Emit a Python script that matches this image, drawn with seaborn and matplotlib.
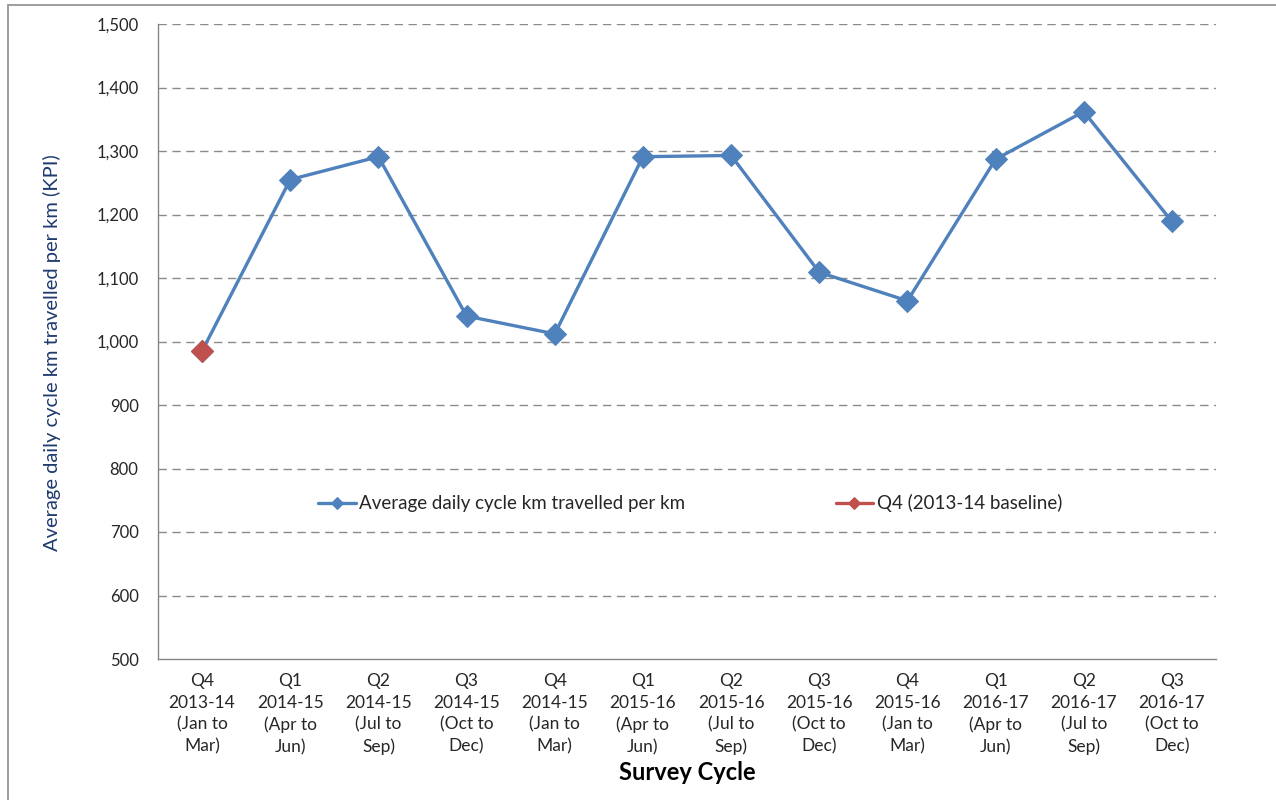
import matplotlib
matplotlib.use("Agg")
import matplotlib.pyplot as plt
import seaborn as sns
import pandas as pd
from matplotlib.patches import Rectangle

# ---- data ----
quarters = ["Q4", "Q1", "Q2", "Q3", "Q4", "Q1", "Q2", "Q3", "Q4", "Q1", "Q2", "Q3"]
years = ["2013-14", "2014-15", "2014-15", "2014-15", "2014-15", "2015-16",
         "2015-16", "2015-16", "2015-16", "2016-17", "2016-17", "2016-17"]
months = ["(Jan to\nMar)", "(Apr to\nJun)", "(Jul to\nSep)", "(Oct to\nDec)",
          "(Jan to\nMar)", "(Apr to\nJun)", "(Jul to\nSep)", "(Oct to\nDec)",
          "(Jan to\nMar)", "(Apr to\nJun)", "(Jul to\nSep)", "(Oct to\nDec)"]
cycle_km = [985, 1255, 1291, 1040, 1012, 1291, 1293, 1109, 1064, 1287, 1362, 1189]
baseline_idx = [0]

labels = [f"{q}\n{y}\n{m}" for q, y, m in zip(quarters, years, months)]
df = pd.DataFrame({"cycle": labels, "km": cycle_km})
base = df.iloc[baseline_idx]

sns.set_style("white")
plt.rcParams["font.family"] = ["Lato", "DejaVu Sans"]

BLUE = "#4F81BD"
RED = "#C0504D"
GREY = "#868686"
TXT = "#262626"

fig = plt.figure(figsize=(12.76, 8), dpi=100)
ax = fig.add_axes([158 / 1276, 1 - 659 / 800, (1216 - 158) / 1276, (659 - 24) / 800])

# frame around the chart like the source screenshot
fig.patches.append(Rectangle((8 / 1276, -0.1), 1.2, 1 - 5 / 800 + 0.1,
                             transform=fig.transFigure, fill=False,
                             edgecolor="#8c8c8c", linewidth=1.2))

sns.lineplot(data=df, x="cycle", y="km", sort=False, color=BLUE, linewidth=2.4,
             marker="D", markersize=11.5, markeredgecolor=BLUE,
             label="Average daily cycle km travelled per km", ax=ax)
sns.lineplot(data=base, x="cycle", y="km", sort=False, color=RED, linewidth=2.4,
             marker="D", markersize=11.5, markeredgecolor=RED,
             label="Q4 (2013-14 baseline)", ax=ax)

ax.set_ylim(500, 1500)
ax.set_yticks(range(500, 1501, 100))
ax.set_yticklabels([f"{v:,}" for v in range(500, 1501, 100)], fontsize=12, color=TXT)
ax.set_xlim(-0.5, len(labels) - 0.5)
ax.set_xticks(range(len(labels)))
ax.set_xticklabels(labels, fontsize=12.5, color=TXT, linespacing=1.45)
ax.set_xticks([i - 0.5 for i in range(len(labels) + 1)], minor=True)
ax.tick_params(axis="x", which="major", length=0, pad=10)
ax.tick_params(axis="x", which="minor", length=6, color=GREY, width=1, direction="out")
ax.tick_params(axis="y", length=6, color=GREY, width=1, direction="out", pad=8)

for v in range(600, 1501, 100):
    ax.axhline(v, color="#8a8a8a", linestyle=(0, (6, 4)), linewidth=1, zorder=0)

for side in ["top", "right"]:
    ax.spines[side].set_visible(False)
for side in ["left", "bottom"]:
    ax.spines[side].set_color(GREY)
    ax.spines[side].set_linewidth(1)

ax.set_xlabel("Survey Cycle", fontsize=17, fontweight="bold", color="black", labelpad=4)
ax.set_ylabel("Average daily cycle km travelled per km (KPI)", fontsize=14.5,
              color="#1F3A6E")
ax.yaxis.set_label_coords(-0.092, 0.483)

leg = ax.legend(loc="center", bbox_to_anchor=(0.503, 0.245), ncol=2, frameon=False,
                fontsize=13.5, handlelength=2.0, columnspacing=8.0, markerscale=0.5,
                handletextpad=0.2)
for t in leg.get_texts():
    t.set_color(TXT)

fig.savefig("out.png", dpi=100)
